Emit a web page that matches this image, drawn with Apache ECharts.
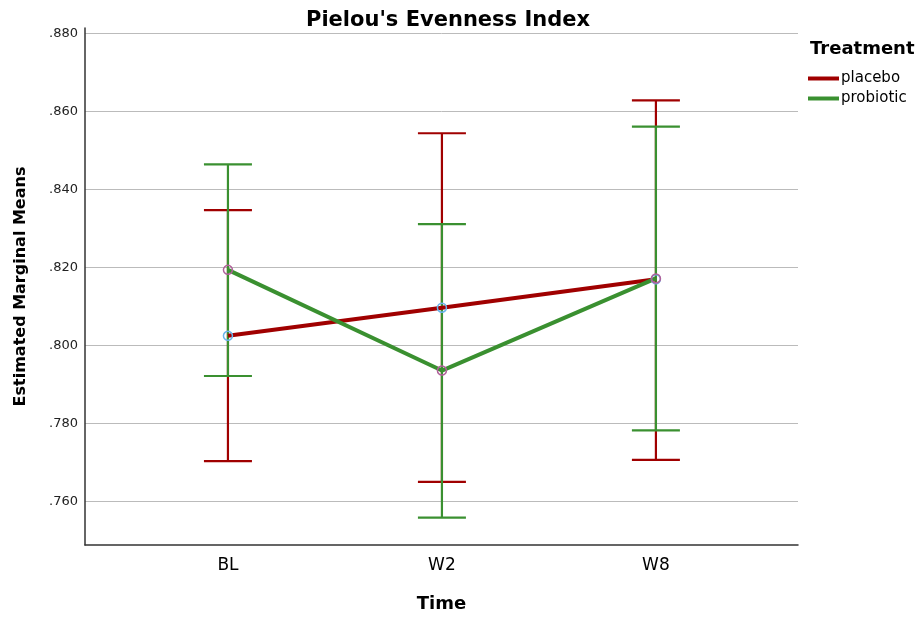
<!DOCTYPE html>
<html>
<head>
<meta charset="utf-8">
<script src="https://cdn.jsdelivr.net/npm/echarts@6/dist/echarts.min.js"></script>
<style>html,body{margin:0;padding:0;background:#fff;}#c{width:921px;height:618px;}</style>
</head>
<body>
<div id="c"></div>
<script>
const categories = ['BL', 'W2', 'W8'];
const yTicks = [0.76, 0.78, 0.80, 0.82, 0.84, 0.86, 0.88];
const placeboMean = [0.8025, 0.8097, 0.8170];
const placeboLow  = [0.7704, 0.7651, 0.7707];
const placeboHigh = [0.8347, 0.8544, 0.8628];
const probioticMean = [0.8194, 0.7936, 0.8172];
const probioticLow  = [0.7922, 0.7559, 0.7783];
const probioticHigh = [0.8464, 0.8311, 0.8561];

const RED = '#a00000';
const GREEN = '#3a9030';
const FONT = 'DejaVu Sans';

function errData(low, high) {
  return categories.map((c, i) => [i, low[i], high[i]]);
}
function errSeries(name, low, high, color) {
  return {
    type: 'custom',
    name: name + ' CI',
    data: errData(low, high),
    z: 2,
    renderItem: function (params, api) {
      const x = api.value(0);
      const lo = api.coord([x, api.value(1)]);
      const hi = api.coord([x, api.value(2)]);
      const hw = 24;
      const st = { stroke: color, lineWidth: 2.2 };
      return {
        type: 'group',
        children: [
          { type: 'line', shape: { x1: lo[0], y1: lo[1], x2: hi[0], y2: hi[1] }, style: st },
          { type: 'line', shape: { x1: lo[0] - hw, y1: lo[1], x2: lo[0] + hw, y2: lo[1] }, style: st },
          { type: 'line', shape: { x1: hi[0] - hw, y1: hi[1], x2: hi[0] + hw, y2: hi[1] }, style: st }
        ]
      };
    }
  };
}
function meanSeries(name, vals, color, markerColor) {
  return {
    type: 'line',
    name: name,
    data: vals.map((v, i) => [i, v]),
    z: 5,
    color: color,
    lineStyle: { color: color, width: 4 },
    symbol: 'circle',
    symbolSize: 9,
    showSymbol: true,
    itemStyle: { color: 'rgba(255,255,255,0)', borderColor: markerColor, borderWidth: 1.5 },
    emphasis: { disabled: true },
    animation: false
  };
}

const chart = echarts.init(document.getElementById('c'));
chart.setOption({
  animation: false,
  backgroundColor: '#fff',
  title: [
    { text: "Pielou's Evenness Index", left: 443, top: 5, textAlign: 'center',
      textStyle: { fontFamily: FONT, fontSize: 21, fontWeight: 'bold', color: '#000' } },
    { text: 'Treatment', left: 805, top: 35,
      textStyle: { fontFamily: FONT, fontSize: 18, fontWeight: 'bold', color: '#000' } }
  ],
  legend: {
    data: [
      { name: 'placebo', itemStyle: { color: RED, borderWidth: 0 } },
      { name: 'probiotic', itemStyle: { color: GREEN, borderWidth: 0 } }
    ],
    orient: 'vertical',
    left: 803,
    top: 66,
    icon: 'rect',
    itemWidth: 31,
    itemHeight: 4,
    itemGap: 5,
    textStyle: { fontFamily: FONT, fontSize: 15, color: '#000', padding: [0, 0, 0, -3] }
  },
  grid: { left: 85, right: 123, top: 28, bottom: 73 },
  xAxis: {
    type: 'value',
    min: -0.668,
    max: 2.664,
    name: 'Time',
    nameLocation: 'middle',
    nameGap: 50,
    nameTextStyle: { fontFamily: FONT, fontSize: 18, fontWeight: 'bold', color: '#000' },
    axisLine: { show: true, onZero: false, lineStyle: { color: '#333', width: 1.5 } },
    axisTick: { show: false, customValues: [0, 1, 2] },
    splitLine: { show: false },
    axisLabel: {
      customValues: [0, 1, 2],
      formatter: v => categories[Math.round(v)],
      fontFamily: FONT, fontSize: 17, color: '#000', margin: 12
    }
  },
  yAxis: {
    type: 'value',
    min: 0.74891,
    max: 0.88136,
    name: 'Estimated Marginal Means',
    nameLocation: 'middle',
    nameGap: 56,
    nameTextStyle: { fontFamily: FONT, fontSize: 16, fontWeight: 'bold', color: '#000' },
    axisLine: { show: true, onZero: false, lineStyle: { color: '#333', width: 1.5 } },
    axisTick: { show: false, customValues: yTicks },
    splitLine: { show: true, lineStyle: { color: '#bbb', width: 1 } },
    axisLabel: {
      customValues: yTicks,
      formatter: v => v.toFixed(3).replace(/^0/, ''),
      fontFamily: FONT, fontSize: 13, color: '#222', margin: 7
    }
  },
  series: [
    errSeries('placebo', placeboLow, placeboHigh, RED),
    errSeries('probiotic', probioticLow, probioticHigh, GREEN),
    meanSeries('placebo', placeboMean, RED, '#6ab4ec'),
    meanSeries('probiotic', probioticMean, GREEN, '#b0609a')
  ]
});
</script>
</body>
</html>
